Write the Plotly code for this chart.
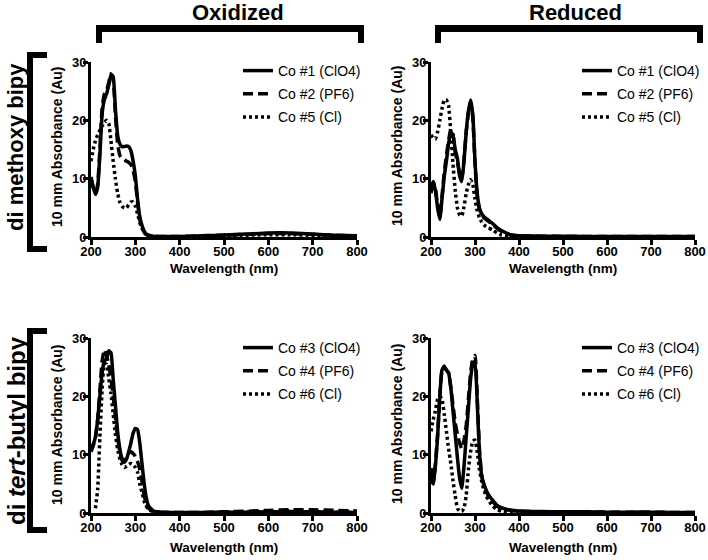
import plotly.graph_objects as go

# ---------------- data ----------------
wavelength = [200, 205, 210, 215, 220, 225, 230, 235, 240, 245, 250, 255, 260, 265, 270,
              275, 280, 285, 290, 295, 300, 305, 310, 315, 320, 325, 330, 340, 350, 360,
              380, 400, 450, 500, 550, 600, 650, 700, 750, 800]

# Oxidized, di methoxy bipy
ox_meo_co1 = [10.3, 8.5, 7.3, 8.5, 14, 21, 23.5, 24.5, 26, 27.8, 27.5, 22, 17.5, 16, 15.5,
              15.5, 15.6, 15.5, 14.8, 13, 10.5, 6.5, 3.5, 2, 1, 0.5, 0.3, 0.15, 0.1, 0.1,
              0.1, 0.1, 0.2, 0.35, 0.5, 0.7, 0.7, 0.5, 0.3, 0.2]
ox_meo_co2 = [10, 8.5, 7.6, 9, 15, 22, 24.5, 25, 26.5, 28, 27, 21, 16, 14, 13.5,
              13.3, 13, 12.8, 12.4, 11.5, 9.5, 6, 3, 1.6, 0.8, 0.4, 0.25, 0.15, 0.1, 0.1,
              0.1, 0.1, 0.2, 0.3, 0.45, 0.6, 0.6, 0.45, 0.3, 0.2]
ox_meo_co5 = [13, 15, 16.5, 17.5, 18.3, 19, 19.6, 20, 19.5, 16.5, 13, 10, 7.5, 6, 5.3,
              5, 5, 5.5, 6, 6, 5.3, 4, 2.5, 1.5, 0.8, 0.4, 0.2, 0.1, 0.05, 0.05,
              0.05, 0.05, 0.1, 0.2, 0.3, 0.4, 0.4, 0.3, 0.2, 0.1]

# Reduced, di methoxy bipy
red_meo_co1 = [7.5, 9.3, 8, 5, 3, 6.5, 10.3, 13, 16, 18, 17.5, 15, 13.5, 10.5, 9.5,
               13, 18, 21.5, 23.5, 21, 13, 7.5, 5, 4, 3.5, 3.2, 2.9, 2.3, 1.6, 1.1,
               0.4, 0.2, 0.15, 0.12, 0.1, 0.1, 0.1, 0.1, 0.1, 0.1]
red_meo_co2 = [8.5, 9.5, 8.3, 5.5, 3.5, 7, 11, 14, 16.5, 18.5, 17.5, 14.5, 13, 10.8, 10,
               13.3, 18, 21.3, 23.2, 20.5, 12.5, 7, 4.8, 3.8, 3.3, 3, 2.7, 2.1, 1.5, 1,
               0.35, 0.2, 0.12, 0.1, 0.1, 0.1, 0.1, 0.1, 0.1, 0.1]
red_meo_co5 = [17.5, 17, 16.8, 18, 20, 22, 23.5, 23.5, 22.5, 18, 12.5, 8, 5, 3.8, 3.6,
               5.2, 7.5, 9, 9.8, 9, 6.5, 4.5, 3.3, 2.6, 2.1, 1.8, 1.6, 1.2, 0.7, 0.35,
               0.1, 0.05, 0.05, 0.05, 0.05, 0.05, 0.05, 0.05, 0.05, 0.05]

# Oxidized, di tert-butyl bipy
ox_tbu_co3 = [11, 11.8, 13, 16, 20, 24, 26, 26.5, 27.8, 27.5, 23, 18.5, 14, 11, 9.3,
              8.7, 9.2, 10.5, 12, 13.7, 14.5, 14.3, 12, 8.5, 5, 2.5, 1.2, 0.4, 0.2, 0.15,
              0.1, 0.1, 0.1, 0.12, 0.15, 0.2, 0.25, 0.2, 0.15, 0.1]
ox_tbu_co4 = [10.5, 11.5, 13, 16, 21, 26, 28, 27, 25.5, 23, 20, 16.5, 13, 10.5, 9,
              9.2, 9.8, 10.3, 10.5, 10.2, 9.7, 8.8, 7.5, 5.5, 3, 1.5, 0.8, 0.3, 0.15, 0.1,
              0.1, 0.1, 0.1, 0.2, 0.3, 0.45, 0.55, 0.55, 0.45, 0.35]
ox_tbu_co6 = [None, None, 0.8, 4, 13, 21, 25.5, 25.5, 23, 20.5, 17, 13.5, 11, 9.3, 8.3,
              7.8, 8, 8.3, 8.5, 8.3, 7.8, 7, 5, 3.5, 2, 1.1, 0.6, 0.25, 0.1, 0.05,
              0.05, 0.05, 0.05, 0.1, 0.15, 0.2, 0.25, 0.2, 0.15, 0.1]

# Reduced, di tert-butyl bipy
red_tbu_co3 = [7.7, 5, 8, 13, 20, 24.5, 25.2, 24.5, 24, 21.5, 17.5, 13.5, 9.5, 6, 4.2,
               8, 13, 18, 23, 25.5, 26, 19, 10.5, 6.5, 5, 4, 3.2, 2.2, 1.3, 0.9,
               0.5, 0.35, 0.25, 0.2, 0.2, 0.15, 0.15, 0.15, 0.1, 0.1]
red_tbu_co4 = [5.5, 5, 8.5, 13.5, 20, 24.5, 25, 24.5, 24, 21.5, 18.5, 15.5, 13.5, 12, 11,
               12.5, 15, 19.5, 24, 26.5, 27, 20, 11, 6.5, 4.8, 3.8, 3, 2, 1.2, 0.8,
               0.45, 0.3, 0.22, 0.2, 0.18, 0.15, 0.15, 0.12, 0.1, 0.1]
red_tbu_co6 = [14, 16, 17.5, 19.5, 20, 19.5, 17, 14, 11, 8.5, 5.5, 3, 0.8, 0.3, 0.3,
               0.8, 3, 7.5, 10.5, 12.3, 12.5, 10.5, 7.5, 5.5, 4, 3, 2.3, 1.2, 0.6, 0.3,
               0.1, 0.05, 0.05, 0.05, 0.05, 0.05, 0.05, 0.05, 0.05, 0.05]

x_ticks = [200, 300, 400, 500, 600, 700, 800]
y_ticks = [0, 10, 20, 30]
column_titles = ["Oxidized", "Reduced"]
row_titles = ["di methoxy bipy", "di <i>tert</i>-butyl bipy"]
x_title = "Wavelength (nm)"
y_title = "10 mm Absorbance (Au)"

panels = [
    # (xaxis, yaxis, legend, [(name, values, dash), ...])
    ("x", "y", "legend", [("Co #1 (ClO4)", ox_meo_co1, "solid"),
                          ("Co #2 (PF6)", ox_meo_co2, "dash"),
                          ("Co #5 (Cl)", ox_meo_co5, "dot")]),
    ("x2", "y2", "legend2", [("Co #1 (ClO4)", red_meo_co1, "solid"),
                             ("Co #2 (PF6)", red_meo_co2, "dash"),
                             ("Co #5 (Cl)", red_meo_co5, "dot")]),
    ("x3", "y3", "legend3", [("Co #3 (ClO4)", ox_tbu_co3, "solid"),
                             ("Co #4 (PF6)", ox_tbu_co4, "dash"),
                             ("Co #6 (Cl)", ox_tbu_co6, "dot")]),
    ("x4", "y4", "legend4", [("Co #3 (ClO4)", red_tbu_co3, "solid"),
                             ("Co #4 (PF6)", red_tbu_co4, "dash"),
                             ("Co #6 (Cl)", red_tbu_co6, "dot")]),
]

# ---------------- layout helpers ----------------
W, H = 708, 560
FONT = "Liberation Sans, Arial, sans-serif"


def px(v):
    return v / W


def py(v):
    return 1 - v / H


dash_map = {"solid": "solid", "dash": "10px,5px", "dot": "3px,3px"}

fig = go.Figure()
for xa, ya, lg, series in panels:
    for i, (name, vals, dash) in enumerate(series):
        fig.add_trace(go.Scatter(
            x=wavelength, y=vals, name=name, mode="lines",
            xaxis=xa, yaxis=ya, legend=lg, legendgroup=lg + str(i),
            line=dict(color="black", width=3.5, dash=dash_map[dash]),
            line_shape="spline", line_smoothing=0.4,
            connectgaps=False,
        ))

# panel placement (pixel boxes)
left_x = (91, 357)
right_x = (431, 695)
top_y = (62, 237)      # (y=30 px, y=0 px)
bot_y = (338, 513)

axis_boxes = {
    "1": (left_x, top_y),
    "2": (right_x, top_y),
    "3": (left_x, bot_y),
    "4": (right_x, bot_y),
}

common_x = dict(range=[200, 800], tickvals=x_ticks, showgrid=False, zeroline=False,
                showline=True, linewidth=3, linecolor="black", ticks="outside",
                ticklen=5, tickwidth=3, tickcolor="black", automargin=False,
                ticklabelstandoff=-5,
                tickfont=dict(family=FONT, size=13, color="black", weight="bold"))
common_y = dict(range=[0, 30], tickvals=y_ticks, showgrid=False, zeroline=False,
                showline=True, linewidth=3, linecolor="black", ticks="outside",
                ticklen=5, tickwidth=3, tickcolor="black", automargin=False,
                ticklabelstandoff=-6,
                tickfont=dict(family=FONT, size=13, color="black", weight="bold"))

layout = dict(
    width=W, height=H, margin=dict(l=0, r=0, t=0, b=0, pad=0, autoexpand=False),
    paper_bgcolor="white", plot_bgcolor="white",
    font=dict(family=FONT, color="black"),
)

for k, ((x0, x1), (yt, yb)) in axis_boxes.items():
    suffix = "" if k == "1" else k
    layout["xaxis" + suffix] = dict(common_x, domain=[px(x0), px(x1)], anchor="y" + suffix)
    layout["yaxis" + suffix] = dict(common_y, domain=[py(yb), py(yt)], anchor="x" + suffix)

legend_pos = {"legend": (238, 55), "legend2": (577, 55), "legend3": (238, 332), "legend4": (577, 332)}
for lg, (lx, ly) in legend_pos.items():
    layout[lg] = dict(x=px(lx), y=py(ly), xanchor="left", yanchor="top",
                      bgcolor="rgba(0,0,0,0)", borderwidth=0, tracegroupgap=2,
                      font=dict(family=FONT, size=14, color="black"))

fig.update_layout(**layout)

# ---------------- brackets ----------------
shapes = []


def rect(x0, y0, x1, y1):
    shapes.append(dict(type="rect", xref="paper", yref="paper",
                       x0=px(x0), x1=px(x1), y0=py(y1), y1=py(y0),
                       fillcolor="black", line=dict(width=0)))


# column brackets (top)
for (bx0, bx1) in [(96, 364), (435, 703)]:
    rect(bx0, 25, bx1, 32)
    rect(bx0, 25, bx0 + 6, 43)
    rect(bx1 - 6, 25, bx1, 43)
# row brackets (left)
for (by0, by1) in [(52, 252), (328, 533)]:
    rect(27, by0, 33, by1)
    rect(27, by0, 47, by0 + 6)
    rect(27, by1 - 6, 47, by1)

fig.update_layout(shapes=shapes)

# ---------------- text ----------------
ann = []
for t, cx in zip(column_titles, [238, 575]):
    ann.append(dict(text=t, x=px(cx), y=py(12), xref="paper", yref="paper",
                    xanchor="center", yanchor="middle", showarrow=False,
                    font=dict(family=FONT, size=22, color="black", weight="bold")))
for t, cy, fs in zip(row_titles, [147, 431], [22, 24]):
    ann.append(dict(text=t, x=px(16), y=py(cy), xref="paper", yref="paper",
                    xanchor="center", yanchor="middle", showarrow=False, textangle=-90,
                    font=dict(family=FONT, size=fs, color="black", weight="bold")))
for cx, cy in [(224, 268), (563, 268), (224, 547), (563, 547)]:
    ann.append(dict(text=x_title, x=px(cx), y=py(cy), xref="paper", yref="paper",
                    xanchor="center", yanchor="middle", showarrow=False,
                    font=dict(family=FONT, size=13.5, color="black", weight="bold")))
for cx, cy in [(57, 146), (397, 146), (57, 424), (397, 424)]:
    ann.append(dict(text=y_title, x=px(cx), y=py(cy), xref="paper", yref="paper",
                    xanchor="center", yanchor="middle", showarrow=False, textangle=-90,
                    font=dict(family=FONT, size=14, color="black", weight="bold")))
fig.update_layout(annotations=ann)

fig.write_html("out.html",
               config={"displayModeBar": False},
               post_script="document.body.style.margin='0';document.body.style.overflow='hidden';")
